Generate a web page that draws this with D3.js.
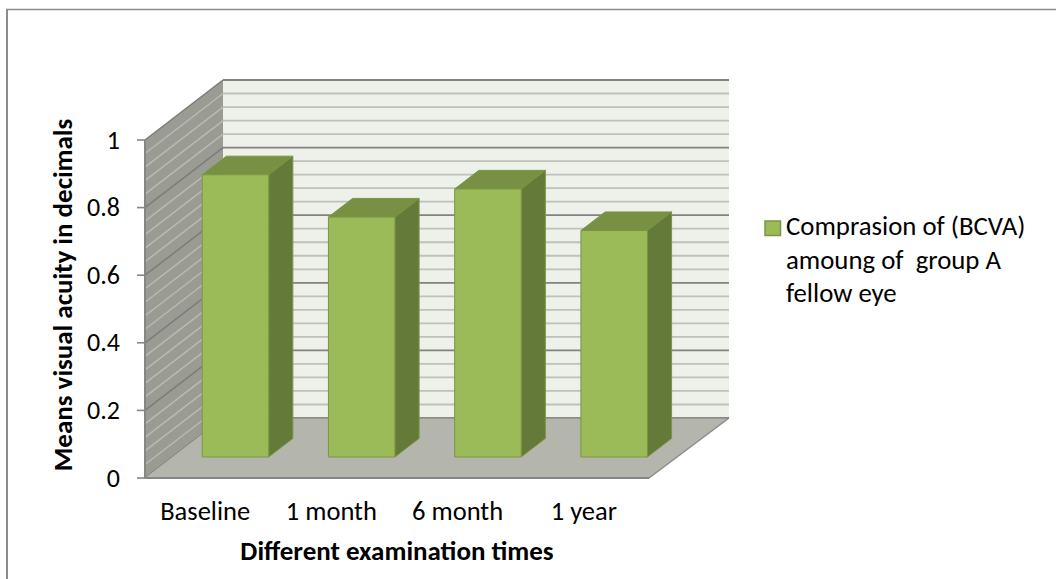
<!DOCTYPE html>
<html><head><meta charset="utf-8">
<script src="https://cdnjs.cloudflare.com/ajax/libs/d3/7.8.5/d3.min.js"></script>
<style>html,body{margin:0;padding:0;background:#fff}svg{display:block}text{font-family:Carlito,"Open Sans","Noto Sans",sans-serif;fill:#000}</style>
</head><body><svg id="c" width="1056" height="579"></svg>
<script>
const categories = ["Baseline","1 month","6 month","1 year"];
const values = [0.835,0.71,0.793,0.67];
const yTicks = [0,0.2,0.4,0.6,0.8,1];
const minorTicks = d3.range(0,26).map(i=>i/25);
const xTitle = "Different examination times";
const yTitle = "Means visual acuity in decimals";
const legendLines = ["Comprasion of (BCVA)","amoung of  group A","fellow eye"];

const svg = d3.select("#c");
const y = d3.scaleLinear().domain([0,1]).range([478,140]);
const x = d3.scaleBand().domain(categories).range([145,650]);
const depth = d3.scaleLinear().domain([0,1]).range([[0,0],[78,-60]]).interpolate((a,b)=>t=>[a[0]+(b[0]-a[0])*t,a[1]+(b[1]-a[1])*t]);
const xEnd = 729-78;
const poly = (pts,fill,stroke)=>svg.append("polygon").attr("points",pts.map(p=>p.join(",")).join(" ")).attr("fill",fill).attr("stroke",stroke||"none");

svg.append("line").attr("x1",7).attr("x2",7).attr("y1",9).attr("y2",579).attr("stroke","#8c8c8c").attr("stroke-width",2);
svg.append("line").attr("x1",6).attr("x2",1056).attr("y1",9.5).attr("y2",9.5).attr("stroke","#8c8c8c").attr("stroke-width",1.4);

const [dx,dy] = depth(1);
poly([[145+dx,y(1)+dy],[729,y(1)+dy],[729,y(0)+dy],[145+dx,y(0)+dy]],"#eef1ea");
poly([[145,y(1)],[145+dx,y(1)+dy],[145+dx,y(0)+dy],[145,y(0)]],"#9a9c94");
minorTicks.forEach(t=>{
  const major = yTicks.some(v=>Math.abs(v-t)<1e-9);
  const c = major?"#828282":"#bec0ba";
  const wc = major?"#7c7c7c":"#b8bab4";
  svg.append("line").attr("x1",145+dx).attr("x2",729).attr("y1",y(t)+dy).attr("y2",y(t)+dy).attr("stroke",c).attr("stroke-width",1.8);
  svg.append("line").attr("x1",145).attr("x2",145+dx).attr("y1",y(t)).attr("y2",y(t)+dy).attr("stroke",wc).attr("stroke-width",1.5);
});
poly([[145,y(0)],[145+dx,y(0)+dy],[729,y(0)+dy],[xEnd-2,y(0)]],"#b4b6ae");
svg.append("line").attr("x1",145+dx).attr("x2",729).attr("y1",y(0)+dy).attr("y2",y(0)+dy).attr("stroke","#8c8e88").attr("stroke-width",1.5);
svg.append("line").attr("x1",729).attr("x2",xEnd-2).attr("y1",y(0)+dy).attr("y2",y(0)).attr("stroke","#8c8c8c").attr("stroke-width",1.5);
svg.append("line").attr("x1",145).attr("x2",145).attr("y1",y(1)).attr("y2",y(0)).attr("stroke","#868686").attr("stroke-width",2);
svg.append("line").attr("x1",145).attr("x2",xEnd-2).attr("y1",y(0)).attr("y2",y(0)).attr("stroke","#868686").attr("stroke-width",2);
svg.append("g").selectAll("line").data(yTicks).join("line").attr("x1",137).attr("x2",145).attr("y1",d=>y(d)).attr("y2",d=>y(d)).attr("stroke","#868686").attr("stroke-width",1.6);
svg.append("g").selectAll("text").data(yTicks).join("text").attr("x",120).attr("y",d=>y(d)+8.5).attr("text-anchor","end").style("font-size","26px").text(d=>d);

const barW = 66.5, front = 0.35, sd = 0.31;
const [ox,oy] = depth(front), [sx,sy] = depth(sd);
categories.forEach((c,i)=>{
  const cx = x(c)+x.bandwidth()/2+ox, l = cx-barW/2, r = cx+barW/2;
  const b = y(0)+oy, t = y(values[i])+oy;
  poly([[l,t],[l+sx,t+sy],[r+sx,t+sy],[r,t]],"#779043","#7a9642");
  poly([[r,t],[r+sx,t+sy],[r+sx,b+sy],[r,b]],"#647a38","#7a9642");
  poly([[l,t],[r,t],[r,b],[l,b]],"#9bbb59","#7a9642");
});

svg.append("g").selectAll("text").data(categories).join("text")
  .attr("x",d=>x(d)+x.bandwidth()/2-3).attr("y",520).attr("text-anchor","middle").style("font-size","26.5px").text(d=>d);
svg.append("text").attr("x",397).attr("y",560).attr("text-anchor","middle").style("font-size","27px").style("font-weight","700").text(xTitle);
svg.append("text").attr("transform","translate(72,295) rotate(-90)").attr("text-anchor","middle").style("font-size","27px").style("font-weight","700").text(yTitle);

svg.append("rect").attr("x",765).attr("y",221).attr("width",15.5).attr("height",14.5).attr("fill","#9bbb59").attr("stroke","#7a9642").attr("stroke-width",1.5);
svg.append("g").selectAll("text").data(legendLines).join("text").attr("x",786).attr("y",(d,i)=>235+i*33.5).style("font-size","26.8px").style("white-space","pre").attr("xml:space","preserve").text(d=>d);
</script></body></html>
